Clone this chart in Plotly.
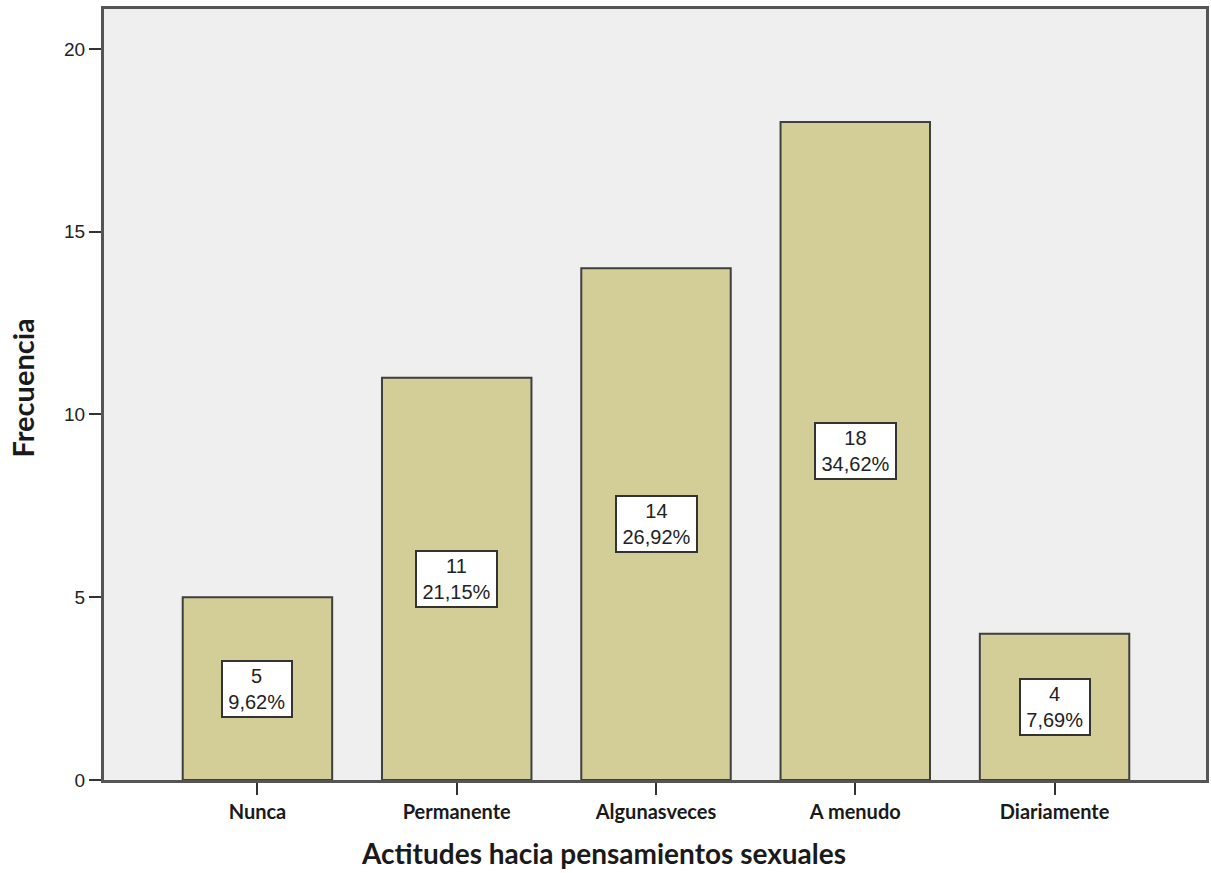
import plotly.graph_objects as go

categories = ["Nunca", "Permanente", "Algunasveces", "A menudo", "Diariamente"]
counts = [5, 11, 14, 18, 4]
percents = ["9,62%", "21,15%", "26,92%", "34,62%", "7,69%"]
y_ticks = [0, 5, 10, 15, 20]

fig = go.Figure()
fig.add_trace(go.Bar(
    x=categories,
    y=counts,
    width=0.75,
    marker=dict(color="#D3CE97", line=dict(color="#3F3F3F", width=2)),
    hoverinfo="skip",
))

# count / percentage label box in the middle of each bar
for cat, n, pct in zip(categories, counts, percents):
    fig.add_annotation(
        x=cat, y=n / 2, xref="x", yref="y",
        text=f"{n}<br>{pct}",
        showarrow=False,
        font=dict(family="Liberation Sans, Arial", size=20, color="#222222"),
        bgcolor="white",
        bordercolor="#333333",
        borderwidth=2,
        borderpad=3,
        width=len(pct) * 11.5 + 4,
        height=48,
        align="center",
    )

# axis titles
fig.add_annotation(
    x=0.453, y=-0.0947, xref="paper", yref="paper",
    text="<b>Actitudes hacia pensamientos sexuales</b>",
    showarrow=False, xanchor="center", yanchor="middle",
    font=dict(family="Lato, Open Sans", size=28, color="#1A1A1A"),
)
fig.add_annotation(
    x=-0.0742, y=0.508, xref="paper", yref="paper",
    text="<b>Frecuencia</b>", textangle=-90,
    showarrow=False, xanchor="center", yanchor="middle",
    font=dict(family="Lato, Open Sans", size=29, color="#1A1A1A"),
)

fig.update_layout(
    width=1211, height=873,
    margin=dict(l=104, r=2, t=9, b=93),
    paper_bgcolor="white",
    plot_bgcolor="#EFEFEF",
    showlegend=False,
    bargap=0.25,
    xaxis=dict(
        range=[-0.77, 4.76],
        showgrid=False,
        ticks="outside", ticklen=12, tickwidth=2, tickcolor="#333333",
        showline=True, linecolor="#555555", linewidth=3, mirror=True,
        tickfont=dict(family="Lato, Open Sans", size=20, color="#1A1A1A", weight="bold"),
    ),
    yaxis=dict(
        range=[0, 21.09],
        tickvals=y_ticks,
        showgrid=False,
        zeroline=False,
        ticks="outside", ticklen=12, tickwidth=2, tickcolor="#333333",
        showline=True, linecolor="#555555", linewidth=3, mirror=True,
        tickfont=dict(family="Liberation Sans, Arial", size=19, color="#222222"),
    ),
)

fig.write_html("out.html")
